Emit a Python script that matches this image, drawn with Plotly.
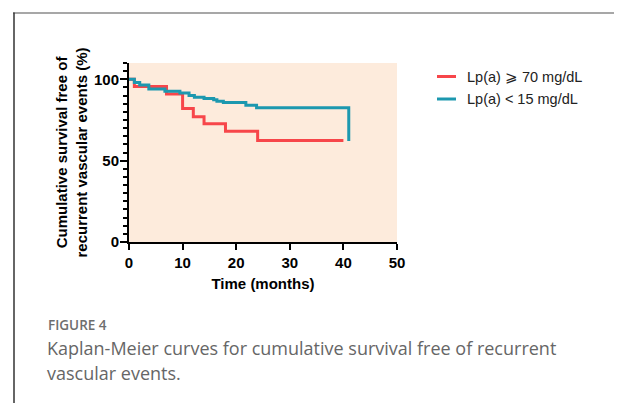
import plotly.graph_objects as go

# Data
high_t = [0, 1, 7, 10, 12, 14, 18, 24, 40]
high_s = [100, 95.5, 91, 82, 77, 72.7, 68, 62.3, 62.3]
low_t = [0, 1, 2, 3.7, 6.7, 9.5, 11.2, 12.2, 14, 15.8, 16.4, 17.6, 21.8, 23.8, 41, 41]
low_s = [100, 98, 96.5, 94, 92.6, 91.5, 90, 89, 88.2, 87.4, 86.5, 85.7, 84, 82.5, 82.5, 62]
series_names = ["Lp(a) \u2a7e 70 mg/dL", "Lp(a) < 15 mg/dL"]
series_colors = ["#F7464A", "#1C98AF"]
x_ticks = [0, 10, 20, 30, 40, 50]
y_ticks = [0, 50, 100]
caption_label = "FIGURE 4"
caption_lines = ["Kaplan-Meier curves for cumulative survival free of recurrent",
                 "vascular events."]

W, H = 622, 403
OFF = 8  # page body margin offset
L, R, T, B = 129 - OFF, 397 - OFF, 63 - OFF, 242 - OFF  # plot area in figure pixels
pw, ph = R - L, B - T


def px_x(p):
    return (p - OFF - L) / pw


def px_y(p):
    return (B - (p - OFF)) / ph


FONT = "Liberation Sans, Arial, sans-serif"

fig = go.Figure()
for t, s, name, col in [(high_t, high_s, series_names[0], series_colors[0]),
                        (low_t, low_s, series_names[1], series_colors[1])]:
    fig.add_trace(go.Scatter(x=t, y=s, mode="lines", name=name,
                             line=dict(color=col, width=3, shape="hv"),
                             showlegend=False, cliponaxis=False))

shapes = []
annotations = []
# manual legend
for i, (name, col) in enumerate(zip(series_names, series_colors)):
    yp = px_y(76.5 + 22.5 * i)
    shapes.append(dict(type="line", xref="paper", yref="paper",
                       x0=px_x(437), x1=px_x(456), y0=yp, y1=yp,
                       line=dict(color=col, width=3)))
    annotations.append(dict(xref="paper", yref="paper", x=px_x(465), y=yp,
                            xanchor="left", yanchor="middle", showarrow=False,
                            text=name, font=dict(family=FONT, size=14.5, color="#222")))

# page frame
shapes.append(dict(type="line", xref="paper", yref="paper",
                   x0=px_x(13), x1=px_x(640), y0=px_y(13), y1=px_y(13),
                   line=dict(color="#8a8a8a", width=1.5)))
shapes.append(dict(type="line", xref="paper", yref="paper",
                   x0=px_x(14), x1=px_x(14), y0=px_y(12.5), y1=px_y(420),
                   line=dict(color="#333333", width=1.5)))

# caption
annotations.append(dict(xref="paper", yref="paper", x=px_x(46), y=px_y(325),
                        xanchor="left", yanchor="middle", showarrow=False,
                        text=caption_label,
                        font=dict(family="Open Sans, sans-serif", size=13.5,
                                  color="#6e6e6e", weight=600)))
for i, line in enumerate(caption_lines):
    annotations.append(dict(xref="paper", yref="paper", x=px_x(45), y=px_y(348 + 25 * i),
                            xanchor="left", yanchor="middle", showarrow=False,
                            text=line,
                            font=dict(family="Open Sans, sans-serif", size=18,
                                      color="#666666")))

fig.update_layout(
    width=W, height=H,
    margin=dict(l=L, r=W - R, t=T, b=H - B, pad=0),
    paper_bgcolor="white", plot_bgcolor="#FDEBDC",
    font=dict(family=FONT, color="black"),
    shapes=shapes, annotations=annotations,
    showlegend=False,
)
fig.update_xaxes(range=[0, 50], tickvals=x_ticks, ticks="outside", ticklen=6,
                 tickwidth=2, tickcolor="black", showline=True, linecolor="black",
                 linewidth=2, showgrid=False, zeroline=False,
                 tickfont=dict(family=FONT, size=15, weight="bold"),
                 title=dict(text="Time (months)", standoff=8,
                            font=dict(family=FONT, size=15, weight="bold")))
fig.update_yaxes(range=[0, 110], tickvals=y_ticks, ticks="outside", ticklen=7,
                 tickwidth=2, tickcolor="black", showline=True, linecolor="black",
                 linewidth=2, showgrid=False, zeroline=False, ticklabelstandoff=-2,
                 minor=dict(dtick=5, tick0=0, ticks="outside", ticklen=4,
                            tickwidth=1.5, tickcolor="black", showgrid=False),
                 tickfont=dict(family=FONT, size=15, weight="bold"),
                 title=dict(text="Cumulative survival free of<br>recurrent vascular events (%)",
                            standoff=3,
                            font=dict(family=FONT, size=15, weight="bold")))

fig.write_html("out.html")
